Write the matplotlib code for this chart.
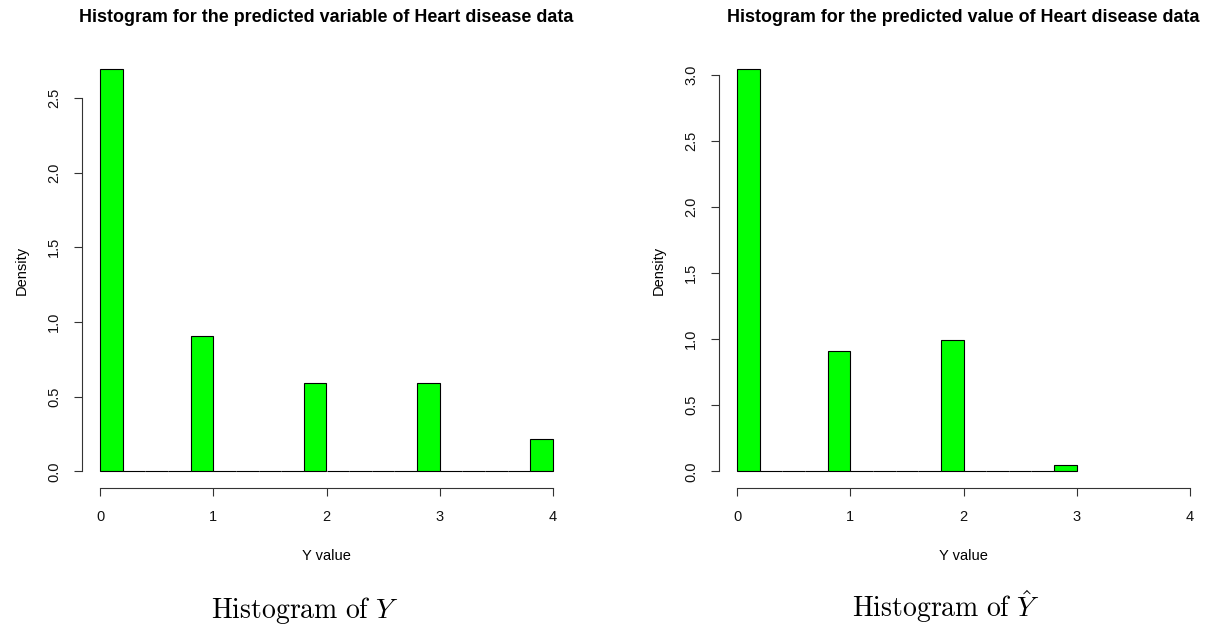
import numpy as np
import matplotlib.pyplot as plt

plt.rcParams['font.family'] = ['Liberation Sans', 'DejaVu Sans']
plt.rcParams['mathtext.fontset'] = 'cm'

# bin edges of both histograms (width 0.2 from 0 to 4)
breaks = [0.0, 0.2, 0.4, 0.6, 0.8, 1.0, 1.2, 1.4, 1.6, 1.8, 2.0,
          2.2, 2.4, 2.6, 2.8, 3.0, 3.2, 3.4, 3.6, 3.8, 4.0]

# densities
dens_y = [2.694, 0, 0, 0, 0.909, 0, 0, 0, 0, 0.589,
          0, 0, 0, 0, 0.589, 0, 0, 0, 0, 0.219]
dens_yhat = [3.047, 0, 0, 0, 0.909, 0, 0, 0, 0, 0.993,
             0, 0, 0, 0, 0.051]

titles = ['Histogram for the predicted variable of Heart disease data',
          'Histogram for the predicted value of Heart disease data']
captions = [r'$\mathrm{Histogram\ of}\ Y$', r'$\mathrm{Histogram\ of}\ \hat{Y}$']
yticks = [[0, 0.5, 1.0, 1.5, 2.0, 2.5], [0, 0.5, 1.0, 1.5, 2.0, 2.5, 3.0]]
xticks = [0, 1, 2, 3, 4]

W, H = 1211, 629
fig = plt.figure(figsize=(W / 100, H / 100), dpi=100)

#--------------------------------------------------
def hist_panel(left_px, dens, title, caption, cap_x, cap_y, yt):
    ax = fig.add_axes([left_px / W, (H - 488) / H, 489 / W, (488 - 53) / H])
    edges = np.array(breaks[:len(dens) + 1])
    ax.bar(edges[:-1], dens, width=np.diff(edges), align='edge',
           color='#00ff00', edgecolor='black', linewidth=0.8)
    top = max(dens) * 1.04
    ax.set_xlim(-0.16, 4.16)
    ax.set_ylim(-0.04 * top, top)
    for s in ['top', 'right']:
        ax.spines[s].set_visible(False)
    ax.spines['left'].set_bounds(0, yt[-1])
    ax.spines['bottom'].set_bounds(0, 4)
    ax.spines['left'].set_color('#333333')
    ax.spines['bottom'].set_color('#333333')
    ax.set_xticks(xticks)
    ax.set_yticks(yt)
    ax.set_yticklabels(['%.1f' % v for v in yt], rotation=90, va='center')
    ax.tick_params(direction='out', length=6, width=0.8, labelsize=10.5,
                   colors='#333333', labelcolor='#111111')
    ax.tick_params(axis='y', pad=9)
    ax.tick_params(axis='x', pad=10)
    ax.set_xlabel('Y value', fontsize=10.5, labelpad=18)
    ax.set_ylabel('Density', fontsize=10.5, labelpad=13)
    cx = (left_px + 244.5) / W
    fig.text(cx, 1 - 22 / H, title, ha='center', va='baseline',
             fontsize=12.9, fontweight='bold')
    fig.text(cap_x / W, 1 - cap_y / H, caption, ha='center', va='baseline',
             fontsize=20)
    return ax
#--------------------------------------------------

hist_panel(82, dens_y, titles[0], captions[0], 305, 618, yticks[0])
hist_panel(719, dens_yhat, titles[1], captions[1], 946, 617, yticks[1])

fig.savefig('out.png', dpi=100)
